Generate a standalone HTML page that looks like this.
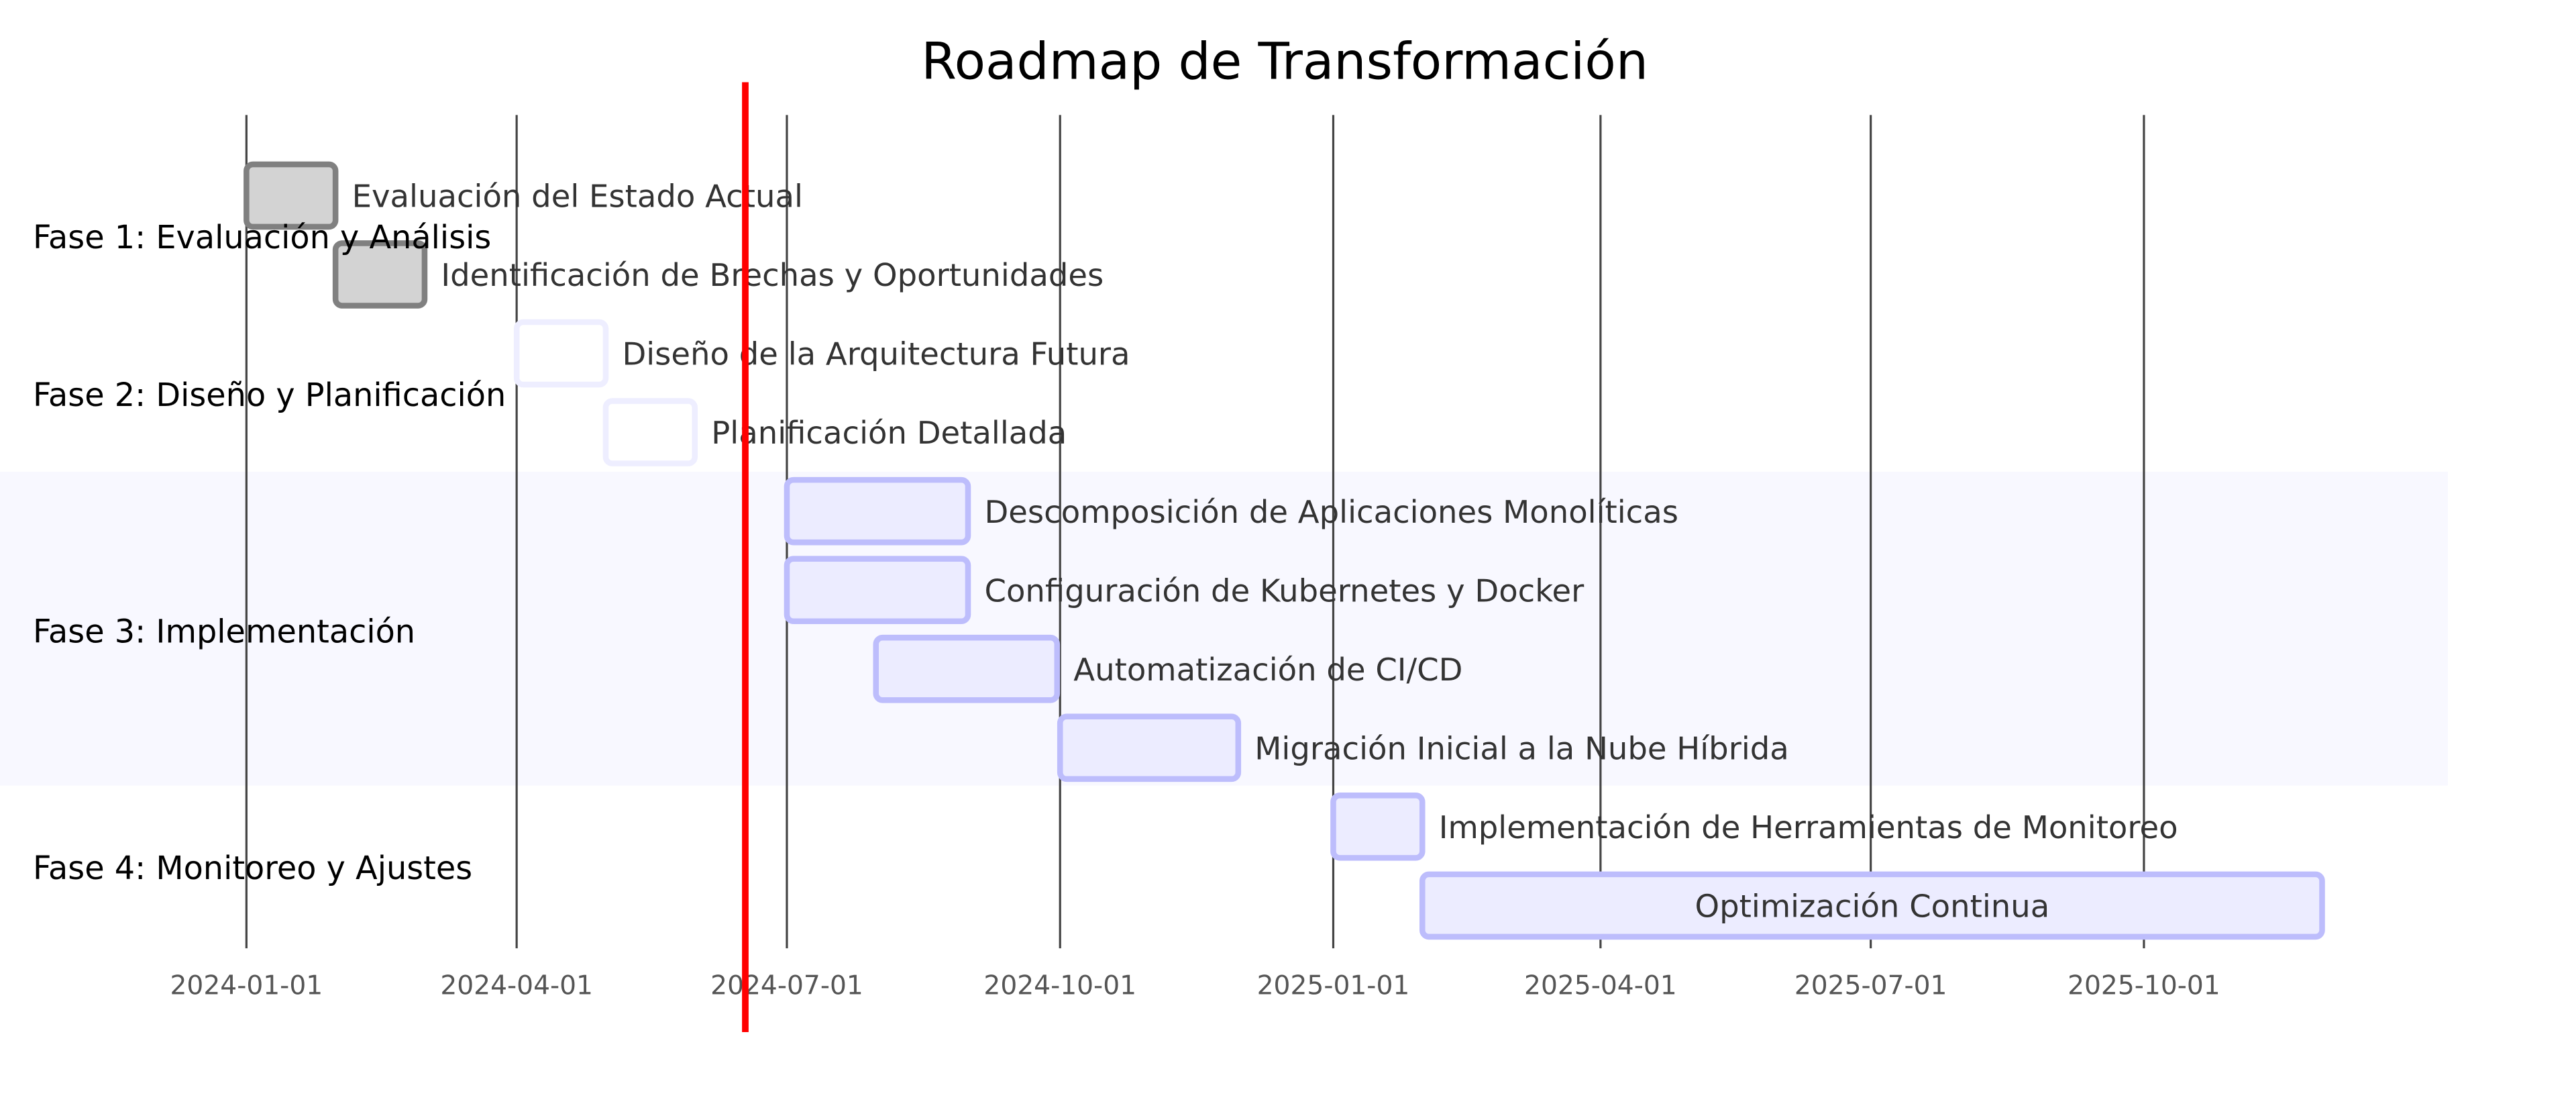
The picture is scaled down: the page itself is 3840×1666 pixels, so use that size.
<!DOCTYPE html>
<html><head><meta charset="utf-8"><style>html,body{margin:0;padding:0;background:#fff;}svg{display:block;}</style></head>
<body>
<svg id="chart" width="3840" height="1666" viewBox="0 0 1568 680.27" preserveAspectRatio="none" xmlns="http://www.w3.org/2000/svg" font-family="'DejaVu Sans', 'Liberation Sans', sans-serif">
<rect width="1568" height="680.27" fill="#fff"/>
<rect x="0" y="287" width="1490" height="191" fill="#f8f8ff"/>
<text x="782" y="48" font-size="31" text-anchor="middle" fill="#000">Roadmap de Transformación</text>
<g id="grid"></g><g id="bars"></g><g id="labels"></g>
</svg>
<script>
const tickLabels = ["2024-01-01","2024-04-01","2024-07-01","2024-10-01","2025-01-01","2025-04-01","2025-07-01","2025-10-01"];
const taskNames = ["Evaluación del Estado Actual","Identificación de Brechas y Oportunidades","Diseño de la Arquitectura Futura","Planificación Detallada","Descomposición de Aplicaciones Monolíticas","Configuración de Kubernetes y Docker","Automatización de CI/CD","Migración Inicial a la Nube Híbrida","Implementación de Herramientas de Monitoreo","Optimización Continua"];
const taskStarts = ["2024-01-01","2024-01-31","2024-04-01","2024-05-01","2024-07-01","2024-07-01","2024-07-31","2024-10-01","2025-01-01","2025-01-31"];
const taskEnds = ["2024-01-31","2024-03-01","2024-05-01","2024-05-31","2024-08-31","2024-08-31","2024-09-30","2024-11-30","2025-01-31","2025-11-30"];
const taskStatus = ["done","done","future","future","active","active","active","active","active","active"];
const sectionNames = ["Fase 1: Evaluación y Análisis","Fase 2: Diseño y Planificación","Fase 3: Implementación","Fase 4: Monitoreo y Ajustes"];
const sectionTaskCounts = [2,2,4,2];
const todayDate = "2024-06-17";

const NS="http://www.w3.org/2000/svg";
const d0=Date.parse("2024-01-01"), d1=Date.parse("2025-10-01");
function xScale(s){return 150+(Date.parse(s)-d0)/(d1-d0)*1155;}
function yRow(i){return 119+i*48;}
function mk(tag,attrs,parent,txt){const e=document.createElementNS(NS,tag);for(const k in attrs)e.setAttribute(k,attrs[k]);if(txt!==undefined)e.textContent=txt;parent.appendChild(e);return e;}
const grid=document.getElementById('grid'),bars=document.getElementById('bars'),labels=document.getElementById('labels');

tickLabels.forEach(t=>{
  const x=xScale(t);
  const l=mk('line',{x1:x,x2:x,y1:70,y2:577,stroke:'#444','stroke-width':1.3},grid);
  
  
  const tx=mk('text',{x:x,y:605,'font-size':16,'text-anchor':'middle',fill:'#555'},grid,t);
  
  
});

let row=0;
sectionNames.forEach((s,i)=>{
  const n=sectionTaskCounts[i];
  const cy=(yRow(row)+yRow(row+n-1))/2+8;
  const t=mk('text',{x:20,y:cy,'font-size':19.5,fill:'#000'},labels,s);
  
  
  row+=n;
});

const styles={done:{fill:'#d3d3d3',stroke:'#808080'},future:{fill:'#ffffff',stroke:'#eeeeff'},active:{fill:'#ececff',stroke:'#bdbdfc'}};
taskNames.forEach((name,i)=>{
  const x0=xScale(taskStarts[i]),x1=xScale(taskEnds[i]),y=yRow(i);
  const st=styles[taskStatus[i]];
  const r=mk('rect',{x:x0,y:y-19,width:x1-x0,height:38,rx:4,fill:st.fill,stroke:st.stroke,'stroke-width':3.5},bars);
  
  
  const inside=(x1-x0)>300;
  const t=mk('text',{x:inside?(x0+x1)/2:x1+10,y:y+7,'font-size':19,fill:'#333','text-anchor':inside?'middle':'start'},labels,name);
  
  
});

const tx=xScale(todayDate);
const tl=mk('line',{x1:tx,x2:tx,y1:50,y2:628,stroke:'#ff0000','stroke-width':4},labels);


</script>
</body></html>
